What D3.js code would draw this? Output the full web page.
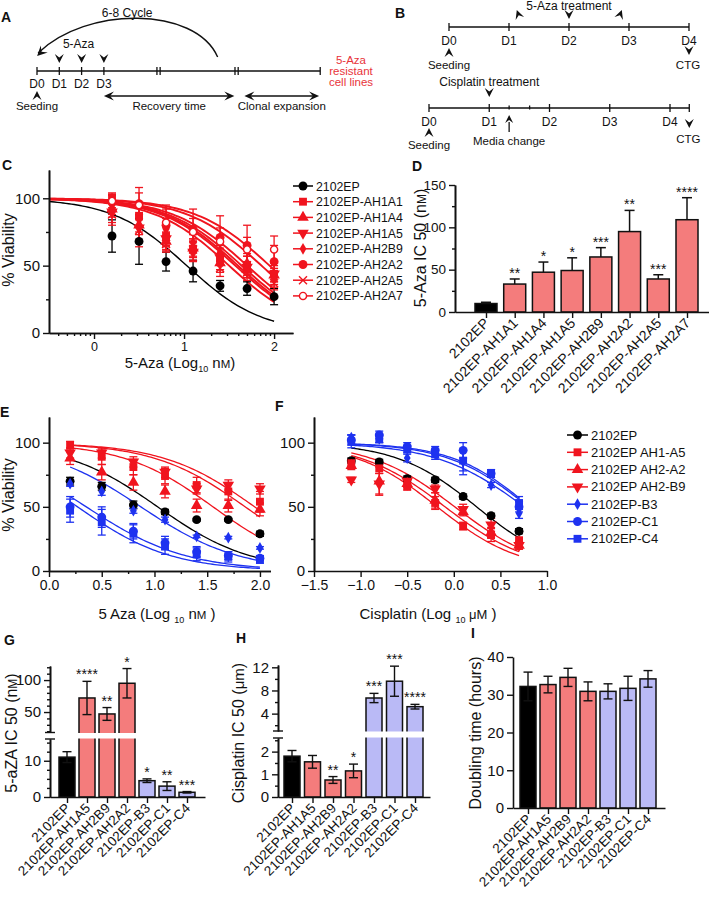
<!DOCTYPE html>
<html>
<head>
<meta charset="utf-8">
<script src="https://cdn.jsdelivr.net/npm/d3@7"></script>
<style>
  body { margin: 0; background: #fff; }
  svg { display: block; }
  text { font-family: "Liberation Sans", Arial, sans-serif; fill: #111; }
</style>
</head>
<body>
<svg id="fig" width="709" height="897"></svg>
<script>
// ---------- data ----------
// panel A timeline (days)
const aDays = ["D0", "D1", "D2", "D3"];
const aTreatDays = [1, 2, 3];
const aBreaks = [5.45, 8.95];
const aEnd = 12.7;
const aRecovery = [3, 8.85];
const aClonal = [9.3, 12.65];

// panel B timelines
const bDays = ["D0", "D1", "D2", "D3", "D4"];
const bAzaMarks = [{ d: 1.13, rot: 160 }, { d: 2, rot: 0 }, { d: 2.88, rot: 200 }];
const bCisMinor = [1.33, 1.67];
const bCisEnd = 4.32;

// panel C (x = log10 nM)
const cX = [0.2, 0.5, 0.8, 1.1, 1.4, 1.7, 2.0];
const cNames = ["2102EP", "2102EP-AH1A1", "2102EP-AH1A4", "2102EP-AH1A5",
  "2102EP-AH2B9", "2102EP-AH2A2", "2102EP-AH2A5", "2102EP-AH2A7"];
const cMarkers = ["circle", "square", "triangle", "triangleDown", "diamond", "circle", "times", "openCircle"];
const cVals = [
  [72, 68, 53, 46, 35, 33, 27],
  [100, 87, 72, 62, 55, 50, 44],
  [92, 80, 68, 63, 52, 47, 43],
  [90, 78, 70, 60, 56, 49, 44],
  [95, 84, 77, 67, 60, 52, 40],
  [97, 96, 80, 77, 71, 65, 53],
  [88, 76, 66, 62, 48, 45, 37],
  [98, 95, 82, 75, 68, 62, 62]
];
const cErr = [
  [12, 17, 7, 8, 4, 5, 6],
  [4, 8, 8, 6, 8, 7, 6],
  [6, 7, 7, 6, 7, 6, 5],
  [8, 10, 8, 7, 9, 8, 8],
  [7, 9, 8, 6, 7, 7, 6],
  [6, 12, 15, 15, 16, 15, 12],
  [8, 12, 6, 8, 6, 6, 5],
  [5, 9, 10, 10, 10, 9, 10]
];
const cLogIC50 = [1.03, 1.5, 1.6, 1.64, 1.7, 1.86, 1.57, 1.95];
const cHill = [1.05, 1.05, 1.05, 1.05, 1.05, 1.05, 1.05, 1.05];

// panel D
const dNames = ["2102EP", "2102EP-AH1A1", "2102EP-AH1A4", "2102EP-AH1A5",
  "2102EP-AH2B9", "2102EP-AH2A2", "2102EP-AH2A5", "2102EP-AH2A7"];
const dVals = [10, 33, 47, 49, 65, 95, 39, 109];
const dErr = [1.5, 6, 12, 15, 11, 25, 5, 26];
const dStars = ["", "**", "*", "*", "***", "**", "***", "****"];

// panels E, F
const efNames = ["2102EP", "2102EP AH1-A5", "2102EP AH2-A2", "2102EP AH2-B9",
  "2102EP-B3", "2102EP-C1", "2102EP-C4"];
const efMarkers = ["circle", "square", "triangle", "triangleDown", "diamond", "circle", "square"];
const efGroup = ["black", "red", "red", "red", "blue", "blue", "blue"];

const eX = [0.2, 0.5, 0.8, 1.1, 1.4, 1.7, 2.0];
const eVals = [
  [70, 66, 51.5, 46, 40, 40, 29],
  [98, 89, 81, 74, 67, 62, 54],
  [88, 77, 69, 62, 51, 51, 48],
  [92, 92, 85, 77, 64, 67, 64],
  [68, 62, 47, 40, 27, 26, 18],
  [50, 42, 31, 22, 15, 12, 10],
  [47, 38, 29, 19, 13, 11, 9]
];
const eErr = [
  [3, 3, 3, 2, 1, 1, 2],
  [3, 6, 6, 6, 6, 7, 8],
  [5, 6, 6, 5, 5, 5, 5],
  [4, 4, 4, 4, 4, 4, 4],
  [2, 3, 2, 2, 1, 1, 1],
  [8, 8, 6, 5, 4, 3, 2],
  [9, 10, 7, 6, 5, 4, 3]
];
const eLogIC50 = [1.03, 1.86, 1.555, 1.95, 0.871, 0.353, 0.27];
const eHill = [0.99, 1.0, 1.02, 1.0, 0.94, 0.92, 0.98];

const fX = [-1.1, -0.8, -0.5, -0.2, 0.1, 0.4, 0.7];
const fVals = [
  [86, 85, 72, 71, 58, 43, 31],
  [84, 80, 66, 53, 35, 28, 24],
  [82, 70, 68, 55, 46, 30, 20],
  [71, 68, 70, 64, 48, 36, 20],
  [104, 103, 88, 92, 85, 67, 45],
  [102, 106, 97, 94, 94, 76, 50],
  [101, 103, 95, 91, 86, 76, 53]
];
const fErr = [
  [2, 2, 2, 2, 2, 2, 2],
  [3, 4, 3, 5, 3, 5, 6],
  [3, 11, 3, 6, 3, 4, 3],
  [2, 8, 3, 3, 4, 5, 3],
  [2, 3, 3, 3, 10, 2, 4],
  [4, 3, 3, 3, 6, 3, 4],
  [5, 3, 3, 4, 8, 3, 5]
];
const fLogIC50 = [0.245, -0.178, -0.094, 0.01, 0.758, 0.817, 0.8];
const fHill = [1.01, 0.985, 0.948, 0.955, 0.91, 1.04, 1.0];

// panels G, H, I
const ghiNames = ["2102EP", "2102EP-AH1A5", "2102EP-AH2B9", "2102EP-AH2A2",
  "2102EP-B3", "2102EP-C1", "2102EP-C4"];
const ghiGroup = ["black", "red", "red", "red", "blue", "blue", "blue"];
const gVals = [11, 72, 47, 95, 4.5, 3.0, 1.3];
const gErr = [1.5, 26, 10, 23, 0.5, 1.2, 0.2];
const gStars = ["", "****", "**", "*", "*", "**", "***"];
const hVals = [1.8, 1.55, 0.75, 1.15, 6.7, 9.6, 5.2];
const hErr = [0.25, 0.28, 0.15, 0.3, 0.8, 2.6, 0.4];
const hStars = ["", "", "**", "*", "***", "***", "****"];
const iVals = [32.2, 32.7, 34.6, 30.9, 30.9, 31.7, 34.2];
const iErr = [3.8, 2.2, 2.4, 2.5, 2.0, 3.2, 2.2];

// ---------- styles ----------
const RED = "#f0141e", BLUE = "#1e32f0", BLACK = "#000";
const BAR_FILL = { black: "#000", red: "#f47c7c", blue: "#babaf6" };
const LINE_COL = { black: BLACK, red: RED, blue: BLUE };

const svg = d3.select("#fig");

function label(g, x, y, s, size, anchor = "middle", extra = {}) {
  const t = g.append("text").attr("x", x).attr("y", y).attr("font-size", size)
    .attr("text-anchor", anchor).text(s);
  Object.entries(extra).forEach(([k, v]) => t.attr(k, v));
  return t;
}

function panelLetter(s, x, y) {
  label(svg, x, y, s, 14, "start", { "font-weight": "bold" });
}

// chevron arrowhead: tip at (x,y), rot 0 = pointing down
function arrowHead(g, x, y, rot, w = 4.5, h = 9, col = "#111") {
  g.append("path")
    .attr("d", `M0,0 L${-w},${-h} L0,${-h * 0.62} L${w},${-h} Z`)
    .attr("transform", `translate(${x},${y}) rotate(${rot})`)
    .attr("fill", col);
}

function marker(g, type, x, y, col, size = 1) {
  let d, rot = 0, fill = col, stroke = "none";
  if (type === "circle" || type === "openCircle") d = d3.symbol(d3.symbolCircle, 62 * size)();
  if (type === "square") d = d3.symbol(d3.symbolSquare, 62 * size)();
  if (type === "triangle") d = d3.symbol(d3.symbolTriangle, 58 * size)();
  if (type === "triangleDown") { d = d3.symbol(d3.symbolTriangle, 58 * size)(); rot = 180; }
  if (type === "diamond") d = d3.symbol(d3.symbolDiamond, 40 * size)();
  if (type === "times") { const r = 4 * Math.sqrt(size); d = `M${-r},${-r}L${r},${r}M${-r},${r}L${r},${-r}`; fill = "none"; stroke = col; }
  if (type === "openCircle") { fill = "#fff"; stroke = col; d = d3.symbol(d3.symbolCircle, 40 * size)(); }
  g.append("path").attr("d", d)
    .attr("transform", `translate(${x},${y}) rotate(${rot})`)
    .attr("fill", fill).attr("stroke", stroke).attr("stroke-width", 1.4);
}

function styleAxis(g, size) {
  g.select(".domain").attr("stroke", "#111").attr("stroke-width", 1.6);
  g.selectAll(".tick line").attr("stroke", "#111").attr("stroke-width", 1.4);
  g.selectAll(".tick text").attr("font-size", size).attr("fill", "#111");
}

function yAxis(x, scale, major, minor, size, fmt) {
  const g = svg.append("g").attr("transform", `translate(${x},0)`)
    .call(d3.axisLeft(scale).tickValues(major).tickSize(6).tickSizeOuter(0).tickPadding(3)
      .tickFormat(fmt || d3.format("d")));
  styleAxis(g, size);
  if (minor && minor.length) {
    const m = svg.append("g").attr("transform", `translate(${x},0)`)
      .call(d3.axisLeft(scale).tickValues(minor).tickSize(3).tickSizeOuter(0).tickFormat(""));
    styleAxis(m, size);
  }
  return g;
}

function xAxis(y, scale, major, minor, size, fmt) {
  const g = svg.append("g").attr("transform", `translate(0,${y})`)
    .call(d3.axisBottom(scale).tickValues(major).tickSize(6).tickSizeOuter(0).tickPadding(3)
      .tickFormat(fmt));
  styleAxis(g, size);
  if (minor && minor.length) {
    const m = svg.append("g").attr("transform", `translate(0,${y})`)
      .call(d3.axisBottom(scale).tickValues(minor).tickSize(3).tickSizeOuter(0).tickFormat(""));
    styleAxis(m, size);
  }
  return g;
}

function rotLabel(x, y, parts, size) {
  const t = svg.append("text").attr("transform", `translate(${x},${y}) rotate(-90)`)
    .attr("text-anchor", "middle").attr("font-size", size);
  parts.forEach(p => {
    const s = t.append("tspan").text(p[0]);
    if (p[1]) s.attr("font-size", p[1]);
    if (p[2]) s.attr("dy", p[2]);
  });
  return t;
}

function hill(x, c, h) { return 100 / (1 + Math.pow(10, (x - c) * h)); }

// ---------- panel A ----------
const gA = svg.append("g");
const xA = d3.scaleLinear().domain([0, 1]).range([37, 59.3]);
const yLineA = 71;
panelLetter("A", 1, 22);
gA.append("line").attr("x1", xA(0)).attr("x2", xA(aEnd)).attr("y1", yLineA).attr("y2", yLineA)
  .attr("stroke", "#111").attr("stroke-width", 1.3);
aDays.forEach((d, i) => {
  gA.append("line").attr("x1", xA(i)).attr("x2", xA(i)).attr("y1", yLineA - 4).attr("y2", yLineA + 4)
    .attr("stroke", "#111").attr("stroke-width", 1.3);
  label(gA, xA(i), 88, d, 12);
});
aBreaks.forEach(b => {
  [-1.6, 1.6].forEach(o => gA.append("line").attr("x1", xA(b) + o).attr("x2", xA(b) + o)
    .attr("y1", yLineA - 4).attr("y2", yLineA + 4).attr("stroke", "#111").attr("stroke-width", 1.3));
});
gA.append("line").attr("x1", xA(aEnd)).attr("x2", xA(aEnd)).attr("y1", yLineA - 4).attr("y2", yLineA + 4)
  .attr("stroke", "#111").attr("stroke-width", 1.3);
aTreatDays.forEach(d => arrowHead(gA, xA(d), 63, 0));
label(gA, xA(2) - 3, 48, "5-Aza", 12);
// cycle arc
const arcPts = [[xA(8.1), 57], [xA(7.1), 6], [xA(2.2), 6], [xA(0.05), 53]];
gA.append("path")
  .attr("d", `M${arcPts[0]}C${arcPts[1]} ${arcPts[2]} ${arcPts[3]}`)
  .attr("fill", "none").attr("stroke", "#111").attr("stroke-width", 1.4);
{
  const dx = arcPts[3][0] - arcPts[2][0], dy = arcPts[3][1] - arcPts[2][1];
  const ang = Math.atan2(-dx, dy) * 180 / Math.PI;
  arrowHead(gA, arcPts[3][0] - 1, arcPts[3][1] + 3, ang, 5, 10);
}
label(gA, xA(4) + 1, 17, "6-8 Cycle", 12);
arrowHead(gA, xA(0), 91, 180);
label(gA, xA(0), 110, "Seeding", 11.5);
function dblArrow(g, x1, x2, y) {
  g.append("line").attr("x1", x1 + 4).attr("x2", x2 - 4).attr("y1", y).attr("y2", y)
    .attr("stroke", "#111").attr("stroke-width", 1.4);
  arrowHead(g, x1, y, 90, 4.5, 10);
  arrowHead(g, x2, y, -90, 4.5, 10);
}
dblArrow(gA, xA(aRecovery[0]), xA(aRecovery[1]), 96);
dblArrow(gA, xA(aClonal[0]), xA(aClonal[1]), 96);
label(gA, (xA(aRecovery[0]) + xA(aRecovery[1])) / 2, 110, "Recovery time", 11.5);
label(gA, (xA(aClonal[0]) + xA(aClonal[1])) / 2, 110, "Clonal expansion", 11.5);
["5-Aza", "resistant", "cell lines"].forEach((s, i) =>
  label(gA, 351, 64 + i * 11, s, 11.5, "middle").style("fill", "#e8333a"));

// ---------- panel B ----------
const gB = svg.append("g");
panelLetter("B", 395, 18);
const xBt = d3.scaleLinear().domain([0, 4]).range([449, 689]);
const xBb = d3.scaleLinear().domain([0, 4]).range([429, 670]);
function bLine(scale, y, end, minor) {
  gB.append("line").attr("x1", scale(0)).attr("x2", scale(end)).attr("y1", y).attr("y2", y)
    .attr("stroke", "#111").attr("stroke-width", 1.3);
  bDays.forEach((d, i) => {
    gB.append("line").attr("x1", scale(i)).attr("x2", scale(i)).attr("y1", y - 4).attr("y2", y + 4)
      .attr("stroke", "#111").attr("stroke-width", 1.3);
    label(gB, scale(i), y + 18, d, 12);
  });
  minor.forEach(m => gB.append("line").attr("x1", scale(m)).attr("x2", scale(m))
    .attr("y1", y - 2.5).attr("y2", y + 1.5).attr("stroke", "#111").attr("stroke-width", 1.3));
  if (end > 4) gB.append("line").attr("x1", scale(end)).attr("x2", scale(end))
    .attr("y1", y - 4).attr("y2", y + 4).attr("stroke", "#111").attr("stroke-width", 1.3);
}
bLine(xBt, 27, 4, []);
label(gB, xBt(2), 10, "5-Aza treatment", 12);
bAzaMarks.forEach(m => arrowHead(gB, xBt(m.d), m.rot === 0 ? 19 : 10, m.rot));
arrowHead(gB, xBt(0), 48, 180);
label(gB, xBt(0), 69, "Seeding", 11.5);
arrowHead(gB, xBt(4), 55, 0);
label(gB, xBt(4) - 1, 69, "CTG", 11.5);

bLine(xBb, 108, bCisEnd, bCisMinor);
label(gB, xBb(1), 86, "Cisplatin treatment", 12);
arrowHead(gB, xBb(1), 97, 0);
arrowHead(gB, xBb(0), 128, 180);
label(gB, xBb(0), 149, "Seeding", 11.5);
gB.append("line").attr("x1", xBb(bCisMinor[0])).attr("x2", xBb(bCisMinor[0]))
  .attr("y1", 122).attr("y2", 132).attr("stroke", "#111").attr("stroke-width", 1.3);
arrowHead(gB, xBb(bCisMinor[0]), 115, 180, 4, 8);
label(gB, xBb(bCisMinor[0]), 145, "Media change", 11.5);
arrowHead(gB, xBb(bCisEnd), 128, 0);
label(gB, xBb(bCisEnd) - 1, 143, "CTG", 11.5);

// ---------- dose-response panels ----------
function drawDose(cfg) {
  const g = svg.append("g");
  // curves
  cfg.names.forEach((n, i) => {
    const pts = d3.range(cfg.curve[0], cfg.curve[1] + 1e-6, (cfg.curve[1] - cfg.curve[0]) / 80)
      .map(x => [cfg.x(x), cfg.y(hill(x, cfg.ic50[i], cfg.hill[i]))]);
    g.append("path").attr("d", d3.line()(pts)).attr("fill", "none")
      .attr("stroke", cfg.colors[i]).attr("stroke-width", cfg.lw[i]);
  });
  // error bars + markers
  cfg.names.forEach((n, i) => {
    const col = cfg.colors[i];
    cfg.xs.forEach((xv, j) => {
      const cx = cfg.x(xv), v = cfg.vals[i][j], e = cfg.errs[i][j];
      const y1 = cfg.y(v + e), y2 = cfg.y(v - e);
      g.append("line").attr("x1", cx).attr("x2", cx).attr("y1", y1).attr("y2", y2)
        .attr("stroke", col).attr("stroke-width", 1.3);
      [y1, y2].forEach(yy => g.append("line").attr("x1", cx - 4).attr("x2", cx + 4)
        .attr("y1", yy).attr("y2", yy).attr("stroke", col).attr("stroke-width", 1.3));
    });
  });
  cfg.names.forEach((n, i) => {
    cfg.xs.forEach((xv, j) => marker(g, cfg.markers[i], cfg.x(xv), cfg.y(cfg.vals[i][j]), cfg.colors[i]));
  });
  // legend
  if (cfg.legend) {
    const L = cfg.legend;
    cfg.names.forEach((n, i) => {
      const yy = L.y + i * L.dy;
      g.append("line").attr("x1", L.x).attr("x2", L.x + L.w).attr("y1", yy).attr("y2", yy)
        .attr("stroke", cfg.colors[i]).attr("stroke-width", 1.5);
      marker(g, cfg.markers[i], L.x + L.w / 2, yy, cfg.colors[i]);
      label(g, L.x + L.w + 3, yy + 4.5, n, L.size, "start");
    });
  }
}

// ---------- panel C ----------
panelLetter("C", 2, 170);
const xC = d3.scaleLinear().domain([-0.5, 2.21]).range([49, 293]);
const yC = d3.scaleLinear().domain([0, 121]).range([333, 170]);
const cMinor = [];
[-1, 0, 1, 2].forEach(e => d3.range(2, 10).forEach(k => {
  const v = Math.log10(k * Math.pow(10, e));
  if (v > -0.5 && v < 2.21) cMinor.push(v);
}));
drawDose({
  x: xC, y: yC, xs: cX, names: cNames, vals: cVals, errs: cErr, markers: cMarkers,
  colors: cNames.map((n, i) => i === 0 ? BLACK : RED), lw: cNames.map((n, i) => i === 0 ? 1.4 : 1.9),
  ic50: cLogIC50, hill: cHill, curve: [-0.5, 2.0],
  legend: { x: 293, y: 186, dy: 15.7, w: 20, size: 12.3 }
});
yAxis(49, yC, [0, 50, 100], [25, 75], 15);
xAxis(333, xC, [0, 1, 2], cMinor, 12.5, d3.format("d"));
rotLabel(14, 250, [["% Viability"]], 16);
{
  const t = label(svg, 180, 368, "5-Aza (Log", 15);
  t.append("tspan").text("10").attr("font-size", 9).attr("dy", 4);
  t.append("tspan").text(" n").attr("dy", -4);
  t.append("tspan").text("M").attr("font-size", 11.5);
  t.append("tspan").text(")");
}

// ---------- panel D ----------
panelLetter("D", 412, 171);
const xD = d3.scalePoint().domain(dNames).range([486, 687]);
const yD = d3.scaleLinear().domain([0, 150]).range([312, 185]);
const gD = svg.append("g");
dNames.forEach((n, i) => {
  const cx = xD(n), w = 22;
  gD.append("rect").attr("x", cx - w / 2).attr("y", yD(dVals[i])).attr("width", w)
    .attr("height", yD(0) - yD(dVals[i])).attr("fill", i === 0 ? "#000" : BAR_FILL.red)
    .attr("stroke", "#111").attr("stroke-width", 1.5);
  const yt = yD(dVals[i] + dErr[i]);
  gD.append("line").attr("x1", cx).attr("x2", cx).attr("y1", yt).attr("y2", yD(dVals[i]))
    .attr("stroke", "#111").attr("stroke-width", 1.5);
  gD.append("line").attr("x1", cx - 5).attr("x2", cx + 5).attr("y1", yt).attr("y2", yt)
    .attr("stroke", "#111").attr("stroke-width", 1.5);
  if (dStars[i]) label(gD, cx, yt - 1, dStars[i], 14);
});
yAxis(455, yD, [0, 50, 100, 150], [25, 75, 125], 13.5);
{
  const g = svg.append("g").attr("transform", "translate(0,312)")
    .call(d3.axisBottom(d3.scaleLinear().range([455, 709])).tickValues([]).tickSizeOuter(0));
  styleAxis(g, 14);
  const gt = svg.append("g").attr("transform", "translate(0,312)")
    .call(d3.axisBottom(xD).tickSize(6).tickSizeOuter(0).tickFormat(""));
  styleAxis(gt, 14);
  gt.select(".domain").remove();
  dNames.forEach(n => label(svg, 0, 0, n, 14, "end",
    { transform: `translate(${xD(n) + 4},${312 + 12}) rotate(-45)` }));
}
rotLabel(426, 248, [["5-Aza IC 50 (n"], ["M", 12], [")"]], 16);

// ---------- panel E ----------
panelLetter("E", 0, 417);
const xE = d3.scaleLinear().domain([0, 2.1]).range([49, 270.5]);
const yE = d3.scaleLinear().domain([0, 120]).range([571, 417]);
drawDose({
  x: xE, y: yE, xs: eX, names: efNames, vals: eVals, errs: eErr, markers: efMarkers,
  colors: efGroup.map(g => LINE_COL[g]), lw: efGroup.map(() => 1.3),
  ic50: eLogIC50, hill: eHill, curve: [0.2, 2.0]
});
yAxis(49, yE, [0, 50, 100], [25, 75], 15);
xAxis(571, xE, [0, 0.5, 1, 1.5, 2], [0.25, 0.75, 1.25, 1.75], 14, d3.format(".1f"));
rotLabel(14, 495, [["% Viability"]], 16);
{
  const t = label(svg, 157, 619, "5 Aza (Log ", 15);
  t.append("tspan").text("10").attr("font-size", 9).attr("dy", 4);
  t.append("tspan").text(" n").attr("dy", -4);
  t.append("tspan").text("M").attr("font-size", 11.5);
  t.append("tspan").text(" )");
}

// ---------- panel F ----------
panelLetter("F", 275, 411);
const xF = d3.scaleLinear().domain([-1.5, 1.0]).range([314, 547]);
drawDose({
  x: xF, y: yE, xs: fX, names: efNames, vals: fVals, errs: fErr, markers: efMarkers,
  colors: efGroup.map(g => LINE_COL[g]), lw: efGroup.map(() => 1.3),
  ic50: fLogIC50, hill: fHill, curve: [-1.1, 0.7],
  legend: { x: 567, y: 435, dy: 17.3, w: 21, size: 13 }
});
yAxis(314, yE, [0, 50, 100], [25, 75], 15);
xAxis(571, xF, [-1.5, -1, -0.5, 0, 0.5, 1], [], 14, v => d3.format(".1f")(v).replace("-", "\u2212"));
{
  const t = label(svg, 428, 619, "Cisplatin (Log ", 15);
  t.append("tspan").text("10").attr("font-size", 9).attr("dy", 4);
  t.append("tspan").text(" \u03bcM").attr("dy", -4).attr("font-size", 13);
  t.append("tspan").text(" )");
}

// ---------- bar panels G, H, I ----------
function barPanel(cfg) {
  const g = svg.append("g");
  const x = d3.scalePoint().domain(ghiNames).range(cfg.xr);
  const w = 16;
  const yOf = v => (cfg.yUp && v > cfg.yLo.domain()[1]) ? cfg.yUp(v) : cfg.yLo(v);
  ghiNames.forEach((n, i) => {
    const cx = x(n), v = cfg.vals[i];
    g.append("rect").attr("x", cx - w / 2).attr("y", yOf(v)).attr("width", w)
      .attr("height", cfg.yLo(0) - yOf(v)).attr("fill", BAR_FILL[ghiGroup[i]])
      .attr("stroke", "#111").attr("stroke-width", 1.5);
  });
  if (cfg.yUp) {
    const yb = cfg.yLo.range()[1], yt = cfg.yUp.range()[0];
    g.append("rect").attr("x", cfg.axisX + 1).attr("y", yt + 0.5).attr("width", cfg.xEnd - cfg.axisX)
      .attr("height", yb - yt - 1).attr("fill", "#fff");
  }
  ghiNames.forEach((n, i) => {
    const cx = x(n), v = cfg.vals[i], e = cfg.errs[i];
    const y1 = yOf(v + e), y2 = yOf(v - e);
    g.append("line").attr("x1", cx).attr("x2", cx).attr("y1", y1).attr("y2", y2)
      .attr("stroke", "#111").attr("stroke-width", 1.4);
    [y1, y2].forEach(yy => g.append("line").attr("x1", cx - 4.5).attr("x2", cx + 4.5)
      .attr("y1", yy).attr("y2", yy).attr("stroke", "#111").attr("stroke-width", 1.4));
    if (cfg.stars && cfg.stars[i]) label(g, cx, y1 - 2, cfg.stars[i], 14);
  });
  // axes
  const y0 = cfg.yLo(0);
  yAxis(cfg.axisX, cfg.yLo, cfg.loMajor, cfg.loMinor, 15);
  if (cfg.yUp) {
    yAxis(cfg.axisX, cfg.yUp, cfg.upMajor, cfg.upMinor, 15);
    [cfg.yLo.range()[1], cfg.yUp.range()[0]].forEach(yy =>
      g.append("line").attr("x1", cfg.axisX - 5).attr("x2", cfg.axisX + 5).attr("y1", yy).attr("y2", yy)
        .attr("stroke", "#111").attr("stroke-width", 1.4));
  }
  const gx = svg.append("g").attr("transform", `translate(0,${y0})`)
    .call(d3.axisBottom(d3.scaleLinear().range([cfg.axisX, cfg.xEnd])).tickValues([]).tickSizeOuter(0));
  styleAxis(gx, 13);
  const gt = svg.append("g").attr("transform", `translate(0,${y0})`)
    .call(d3.axisBottom(x).tickSize(6).tickSizeOuter(0).tickFormat(""));
  styleAxis(gt, 13);
  gt.select(".domain").remove();
  ghiNames.forEach(n => label(svg, 0, 0, n, 13.5, "end",
    { transform: `translate(${x(n) + 4},${y0 + 12}) rotate(-45)` }));
}

// G
panelLetter("G", 4, 645);
barPanel({
  xr: [67, 187], axisX: 50, xEnd: 205, vals: gVals, errs: gErr, stars: gStars,
  yLo: d3.scaleLinear().domain([0, 16]).range([797, 739]),
  yUp: d3.scaleLinear().domain([18, 122]).range([732.5, 666]),
  loMajor: [0, 10], loMinor: [2.5, 5, 7.5, 12.5, 15],
  upMajor: [50, 100], upMinor: [20, 30, 40, 60, 70, 80, 90, 110, 120]
});
rotLabel(17, 733, [["5-aZA IC 50 (n"], ["M", 12], [")"]], 16);

// H
panelLetter("H", 236, 643);
barPanel({
  xr: [292, 415], axisX: 278, xEnd: 430, vals: hVals, errs: hErr, stars: hStars,
  yLo: d3.scaleLinear().domain([0, 2.6]).range([797, 738]),
  yUp: d3.scaleLinear().domain([1, 12.4]).range([731, 665]),
  loMajor: [0, 1, 2], loMinor: [0.5, 1.5, 2.5],
  upMajor: [4, 8, 12], upMinor: [2, 6, 10]
});
rotLabel(244, 733, [["Cisplatin IC 50 ("], ["\u03bcm", 15], [")"]], 16);

// I
panelLetter("I", 471, 638);
barPanel({
  xr: [528, 648], axisX: 513, xEnd: 665, vals: iVals, errs: iErr,
  yLo: d3.scaleLinear().domain([0, 40]).range([808, 657]),
  loMajor: [0, 10, 20, 30, 40], loMinor: []
});
rotLabel(481, 733, [["Doubling time (hours)"]], 16);
</script>
</body>
</html>
